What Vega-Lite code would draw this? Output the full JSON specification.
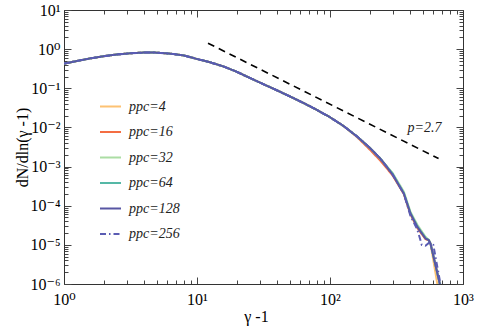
{
  "$schema": "https://vega.github.io/schema/vega-lite/v6.json",
  "width": 399,
  "height": 274,
  "autosize": {"type": "none"},
  "padding": {"left": 64, "top": 10, "right": 14, "bottom": 43},
  "background": "white",
  "config": {
    "view": {"stroke": null},
    "font": "Liberation Serif, Times New Roman, DejaVu Serif, serif",
    "axis": {"labelFont": "Liberation Serif, Times New Roman, DejaVu Serif, serif", "titleFont": "Liberation Serif, Times New Roman, DejaVu Serif, serif", "labelColor": "black", "titleColor": "black", "domainColor": "#333", "tickColor": "#444", "grid": false}
  },
  "datasets": {
    "curves": [
      {"x": 1, "ppc=4": 0.427, "ppc=16": 0.427, "ppc=32": 0.427, "ppc=64": 0.427, "ppc=128": 0.427, "ppc=256": 0.427},
      {"x": 1.259, "ppc=4": 0.501, "ppc=16": 0.501, "ppc=32": 0.501, "ppc=64": 0.501, "ppc=128": 0.501, "ppc=256": 0.501},
      {"x": 1.585, "ppc=4": 0.582, "ppc=16": 0.582, "ppc=32": 0.582, "ppc=64": 0.582, "ppc=128": 0.582, "ppc=256": 0.582},
      {"x": 1.995, "ppc=4": 0.661, "ppc=16": 0.661, "ppc=32": 0.661, "ppc=64": 0.661, "ppc=128": 0.661, "ppc=256": 0.661},
      {"x": 2.512, "ppc=4": 0.733, "ppc=16": 0.733, "ppc=32": 0.733, "ppc=64": 0.733, "ppc=128": 0.733, "ppc=256": 0.733},
      {"x": 3.162, "ppc=4": 0.785, "ppc=16": 0.785, "ppc=32": 0.785, "ppc=64": 0.785, "ppc=128": 0.785, "ppc=256": 0.785},
      {"x": 3.981, "ppc=4": 0.817, "ppc=16": 0.817, "ppc=32": 0.817, "ppc=64": 0.817, "ppc=128": 0.817, "ppc=256": 0.817},
      {"x": 4.467, "ppc=4": 0.822, "ppc=16": 0.822, "ppc=32": 0.822, "ppc=64": 0.822, "ppc=128": 0.822, "ppc=256": 0.822},
      {"x": 5.012, "ppc=4": 0.813, "ppc=16": 0.813, "ppc=32": 0.813, "ppc=64": 0.813, "ppc=128": 0.813, "ppc=256": 0.813},
      {"x": 6.31, "ppc=4": 0.767, "ppc=16": 0.767, "ppc=32": 0.767, "ppc=64": 0.767, "ppc=128": 0.767, "ppc=256": 0.767},
      {"x": 7.943, "ppc=4": 0.692, "ppc=16": 0.692, "ppc=32": 0.692, "ppc=64": 0.692, "ppc=128": 0.692, "ppc=256": 0.692},
      {"x": 10, "ppc=4": 0.56, "ppc=16": 0.56, "ppc=32": 0.56, "ppc=64": 0.56, "ppc=128": 0.56, "ppc=256": 0.56},
      {"x": 12.59, "ppc=4": 0.46, "ppc=16": 0.46, "ppc=32": 0.46, "ppc=64": 0.46, "ppc=128": 0.46, "ppc=256": 0.46},
      {"x": 15.85, "ppc=4": 0.36, "ppc=16": 0.36, "ppc=32": 0.36, "ppc=64": 0.36, "ppc=128": 0.36, "ppc=256": 0.36},
      {"x": 19.95, "ppc=4": 0.263, "ppc=16": 0.263, "ppc=32": 0.263, "ppc=64": 0.263, "ppc=128": 0.263, "ppc=256": 0.263},
      {"x": 25.12, "ppc=4": 0.182, "ppc=16": 0.182, "ppc=32": 0.182, "ppc=64": 0.182, "ppc=128": 0.182, "ppc=256": 0.182},
      {"x": 31.62, "ppc=4": 0.127, "ppc=16": 0.127, "ppc=32": 0.127, "ppc=64": 0.127, "ppc=128": 0.127, "ppc=256": 0.127},
      {"x": 39.81, "ppc=4": 0.089, "ppc=16": 0.089, "ppc=32": 0.089, "ppc=64": 0.089, "ppc=128": 0.089, "ppc=256": 0.089},
      {"x": 50.12, "ppc=4": 0.0617, "ppc=16": 0.0617, "ppc=32": 0.0617, "ppc=64": 0.0617, "ppc=128": 0.0617, "ppc=256": 0.0617},
      {"x": 63.1, "ppc=4": 0.0422, "ppc=16": 0.0422, "ppc=32": 0.0422, "ppc=64": 0.0422, "ppc=128": 0.0422, "ppc=256": 0.0422},
      {"x": 79.43, "ppc=4": 0.0282, "ppc=16": 0.0282, "ppc=32": 0.0282, "ppc=64": 0.0282, "ppc=128": 0.0282, "ppc=256": 0.0282},
      {"x": 100, "ppc=4": 0.0182, "ppc=16": 0.0182, "ppc=32": 0.0182, "ppc=64": 0.0182, "ppc=128": 0.0182, "ppc=256": 0.0182},
      {"x": 125.9, "ppc=4": 0.011, "ppc=16": 0.011, "ppc=32": 0.011, "ppc=64": 0.011, "ppc=128": 0.011, "ppc=256": 0.011},
      {"x": 158.5, "ppc=4": 0.006, "ppc=16": 0.0058, "ppc=32": 0.006, "ppc=64": 0.006, "ppc=128": 0.006, "ppc=256": 0.006},
      {"x": 199.5, "ppc=4": 0.003, "ppc=16": 0.0027, "ppc=32": 0.003, "ppc=64": 0.003, "ppc=128": 0.003, "ppc=256": 0.003},
      {"x": 239.9, "ppc=4": 0.00158, "ppc=16": 0.0014, "ppc=32": 0.00158, "ppc=64": 0.00158, "ppc=128": 0.00158, "ppc=256": 0.00158},
      {"x": 295.1, "ppc=4": 0.00063, "ppc=16": 0.0006, "ppc=32": 0.00069, "ppc=64": 0.00066, "ppc=128": 0.00063, "ppc=256": 0.00063},
      {"x": 358.9, "ppc=4": 0.000204, "ppc=16": 0.0002, "ppc=32": 0.00023, "ppc=64": 0.00021, "ppc=128": 0.000204, "ppc=256": 0.000204},
      {"x": 402.7, "ppc=4": 0.000063, "ppc=16": 0.00006, "ppc=32": 0.00007, "ppc=64": 0.000065, "ppc=128": 0.000063, "ppc=256": 0.000055},
      {"x": 452.9, "ppc=4": 0.000029, "ppc=16": 0.000027, "ppc=32": 0.000033, "ppc=64": 0.00003, "ppc=128": 0.000029, "ppc=256": 0.000025},
      {"x": 490, "ppc=4": null, "ppc=16": null, "ppc=32": null, "ppc=64": null, "ppc=128": null, "ppc=256": 0.00001},
      {"x": 522.4, "ppc=4": 0.0000145, "ppc=16": 0.000014, "ppc=32": 0.000016, "ppc=64": 0.000015, "ppc=128": 0.0000145, "ppc=256": 0.0000095},
      {"x": 553.4, "ppc=4": 0.0000132, "ppc=16": 0.000013, "ppc=32": 0.0000135, "ppc=64": 0.0000132, "ppc=128": 0.0000132, "ppc=256": 0.0000112},
      {"x": 570, "ppc=4": 0.0000107, "ppc=16": 0.0000107, "ppc=32": 0.0000107, "ppc=64": 0.0000107, "ppc=128": 0.0000107, "ppc=256": null},
      {"x": 598, "ppc=4": null, "ppc=16": null, "ppc=32": null, "ppc=64": null, "ppc=128": null, "ppc=256": 0.00001},
      {"x": 646, "ppc=4": 0.00000086, "ppc=16": null, "ppc=32": null, "ppc=64": null, "ppc=128": null, "ppc=256": null},
      {"x": 676, "ppc=4": null, "ppc=16": 0.00000087, "ppc=32": 0.00000087, "ppc=64": 0.00000087, "ppc=128": 0.00000087, "ppc=256": null},
      {"x": 690, "ppc=4": null, "ppc=16": null, "ppc=32": null, "ppc=64": null, "ppc=128": null, "ppc=256": 0.0000007}
    ],
    "powerlaw": [
      {"x": 12.1, "y": 1.42},
      {"x": 655, "y": 0.0016}
    ],
    "annot": [
      {"x": 383, "y": 0.0095, "label": "p=2.7"}
    ]
  },
  "resolve": {"axis": {"x": "independent", "y": "independent"}},
  "layer": [
    {
      "data": {"name": "curves"},
      "transform": [
        {"fold": ["ppc=4", "ppc=16", "ppc=32", "ppc=64", "ppc=128", "ppc=256"], "as": ["s", "y"]},
        {"filter": "datum.y != null"}
      ],
      "mark": {"type": "line", "clip": true, "strokeWidth": 2},
      "encoding": {
        "x": {
          "field": "x", "type": "quantitative",
          "scale": {"type": "log", "domain": [1, 1000], "nice": false},
          "axis": {
            "orient": "bottom",
            "title": "γ -1",
            "titleFontSize": 16, "titleFontWeight": "normal",
            "titleX": 192, "titleY": 32, "titleBaseline": "middle",
            "values": [1,2,3,4,5,6,7,8,9,10,20,30,40,50,60,70,80,90,100,200,300,400,500,600,700,800,900,1000],
            "labelExpr": "abs(log(datum.value)/LN10 - round(log(datum.value)/LN10)) < 0.01 ? '10' + (round(log(datum.value)/LN10) < 0 ? '⁻' : '') + ['⁰','¹','²','³','⁴','⁵','⁶','⁷'][abs(round(log(datum.value)/LN10))] : ''",
            "labelFontSize": 16, "labelPadding": 7, "labelOverlap": false, "labelFlush": false, "labelBound": false,
            "tickSize": 0,
            "encoding": {"ticks": {"y2": {"condition": {"test": "abs(log(datum.value)/LN10 - round(log(datum.value)/LN10)) < 0.01", "value": -7}, "value": -4}}}
          }
        },
        "y": {
          "field": "y", "type": "quantitative",
          "scale": {"type": "log", "domain": [0.000001, 10], "nice": false},
          "axis": {
            "orient": "left",
            "title": "dN/dln(γ -1)",
            "titleFontSize": 16, "titleFontWeight": "normal",
            "titleX": -42, "titleBaseline": "middle",
            "values": [0.000001,0.000002,0.000003,0.000004,0.000005,0.000006,0.000007,0.000008,0.000009,0.00001,0.00002,0.00003,0.00004,0.00005,0.00006,0.00007,0.00008,0.00009,0.0001,0.0002,0.0003,0.0004,0.0005,0.0006,0.0007,0.0008,0.0009,0.001,0.002,0.003,0.004,0.005,0.006,0.007,0.008,0.009,0.01,0.02,0.03,0.04,0.05,0.06,0.07,0.08,0.09,0.1,0.2,0.3,0.4,0.5,0.6,0.7,0.8,0.9,1,2,3,4,5,6,7,8,9,10],
            "labelExpr": "abs(log(datum.value)/LN10 - round(log(datum.value)/LN10)) < 0.01 ? '10' + (round(log(datum.value)/LN10) < 0 ? '⁻' : '') + ['⁰','¹','²','³','⁴','⁵','⁶','⁷'][abs(round(log(datum.value)/LN10))] : ''",
            "labelFontSize": 16, "labelPadding": 4, "labelOverlap": false, "labelFlush": false, "labelBound": false,
            "tickSize": 0,
            "encoding": {"ticks": {"x2": {"condition": {"test": "abs(log(datum.value)/LN10 - round(log(datum.value)/LN10)) < 0.01", "value": 7}, "value": 4}}}
          }
        },
        "color": {
          "field": "s", "type": "nominal",
          "scale": {"domain": ["ppc=4", "ppc=16", "ppc=32", "ppc=64", "ppc=128", "ppc=256"], "range": ["#fdc273", "#f46d43", "#abdda4", "#55b8a6", "#5856a3", "#5a5cb3"]},
          "legend": {"orient": "none", "legendX": 35, "legendY": 85, "title": null, "padding": 0, "symbolType": "stroke", "symbolSize": 441, "symbolStrokeWidth": 2, "labelOffset": 7, "labelFont": "Liberation Serif, Times New Roman, DejaVu Serif, serif", "labelFontStyle": "italic", "labelFontSize": 14, "labelColor": "#222", "rowPadding": 6.5}
        },
        "strokeDash": {
          "field": "s", "type": "nominal",
          "scale": {"domain": ["ppc=4", "ppc=16", "ppc=32", "ppc=64", "ppc=128", "ppc=256"], "range": [[1, 0], [1, 0], [1, 0], [1, 0], [1, 0], [6, 3, 1.5, 3]]},
          "legend": {"orient": "none", "legendX": 35, "legendY": 85, "title": null, "padding": 0, "symbolType": "stroke", "symbolSize": 441, "symbolStrokeWidth": 2, "labelOffset": 7, "labelFont": "Liberation Serif, Times New Roman, DejaVu Serif, serif", "labelFontStyle": "italic", "labelFontSize": 14, "labelColor": "#222", "rowPadding": 6.5}
        }
      }
    },
    {
      "data": {"name": "powerlaw"},
      "mark": {"type": "line", "color": "black", "strokeDash": [7, 5], "strokeWidth": 1.6},
      "encoding": {
        "x": {
          "field": "x", "type": "quantitative",
          "scale": {"type": "log", "domain": [1, 1000], "nice": false},
          "axis": {
            "orient": "top", "title": null, "labels": false,
            "values": [1,2,3,4,5,6,7,8,9,10,20,30,40,50,60,70,80,90,100,200,300,400,500,600,700,800,900,1000],
            "tickSize": 0,
            "encoding": {"ticks": {"y2": {"condition": {"test": "abs(log(datum.value)/LN10 - round(log(datum.value)/LN10)) < 0.01", "value": 7}, "value": 4}}}
          }
        },
        "y": {
          "field": "y", "type": "quantitative",
          "scale": {"type": "log", "domain": [0.000001, 10], "nice": false},
          "axis": {
            "orient": "right", "title": null, "labels": false,
            "values": [0.000001,0.000002,0.000003,0.000004,0.000005,0.000006,0.000007,0.000008,0.000009,0.00001,0.00002,0.00003,0.00004,0.00005,0.00006,0.00007,0.00008,0.00009,0.0001,0.0002,0.0003,0.0004,0.0005,0.0006,0.0007,0.0008,0.0009,0.001,0.002,0.003,0.004,0.005,0.006,0.007,0.008,0.009,0.01,0.02,0.03,0.04,0.05,0.06,0.07,0.08,0.09,0.1,0.2,0.3,0.4,0.5,0.6,0.7,0.8,0.9,1,2,3,4,5,6,7,8,9,10],
            "tickSize": 0,
            "encoding": {"ticks": {"x2": {"condition": {"test": "abs(log(datum.value)/LN10 - round(log(datum.value)/LN10)) < 0.01", "value": -7}, "value": -4}}}
          }
        }
      }
    },
    {
      "data": {"name": "annot"},
      "mark": {"type": "text", "align": "left", "baseline": "middle", "font": "Liberation Serif, Times New Roman, DejaVu Serif, serif", "fontStyle": "italic", "fontSize": 14, "color": "#222"},
      "encoding": {
        "x": {"field": "x", "type": "quantitative", "scale": {"type": "log", "domain": [1, 1000], "nice": false}, "axis": null},
        "y": {"field": "y", "type": "quantitative", "scale": {"type": "log", "domain": [0.000001, 10], "nice": false}, "axis": null},
        "text": {"field": "label"}
      }
    }
  ]
}
